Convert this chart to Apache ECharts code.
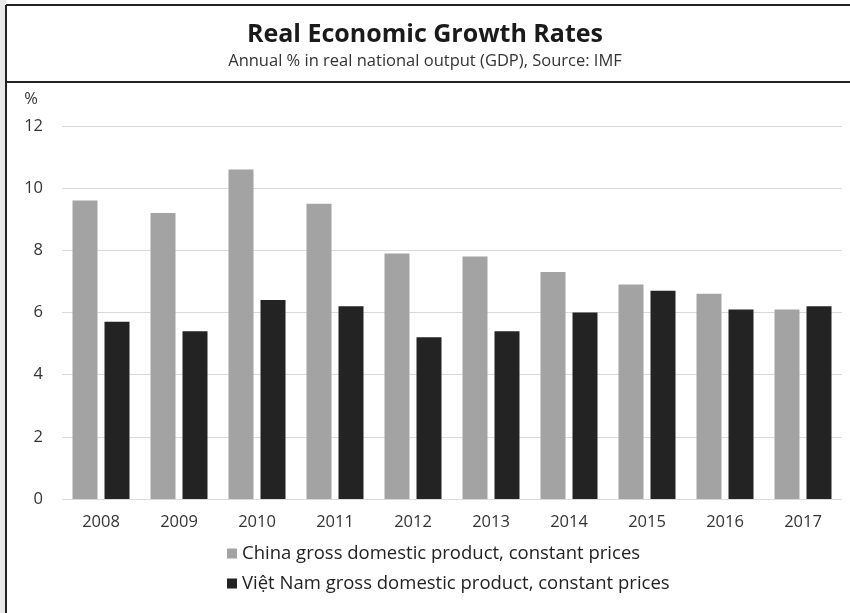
<!DOCTYPE html>
<html>
<head>
<meta charset="utf-8">
<script src="https://cdn.jsdelivr.net/npm/echarts@6/dist/echarts.min.js"></script>
<style>
  html, body { margin: 0; padding: 0; background: #fff; }
</style>
</head>
<body>
<div id="growth_chart" style="width:850px;height:613px;"></div>
<script>
  var years = ['2008', '2009', '2010', '2011', '2012', '2013', '2014', '2015', '2016', '2017'];

  var china = [9.6, 9.2, 10.6, 9.5, 7.9, 7.8, 7.3, 6.9, 6.6, 6.1];

  var vietnam = [5.7, 5.4, 6.4, 6.2, 5.2, 5.4, 6.0, 6.7, 6.1, 6.2];

  var yTicks = { min: 0, max: 12, interval: 2 };

  var chartInstance = echarts.init(document.getElementById('growth_chart'));

  var fontName = "'Open Sans', 'Noto Sans', sans-serif";

  var option = {
    animation: false,
    backgroundColor: '#fff',
    textStyle: { fontFamily: fontName },
    title: {
      text: 'Real Economic Growth Rates',
      subtext: 'Annual % in real national output (GDP), Source: IMF',
      left: 'center',
      top: 17,
      itemGap: 6,
      textStyle: { fontSize: 25, fontWeight: 'bold', color: '#1a1a1a', fontFamily: fontName },
      subtextStyle: { fontSize: 16.5, color: '#333', fontFamily: fontName }
    },
    // frame lines round the title area
    graphic: [
      { type: 'rect', shape: { x: 0, y: 0, width: 6, height: 613 }, style: { fill: '#e8e8e8' }, silent: true },
      { type: 'line', shape: { x1: 6, y1: 5, x2: 850, y2: 5 }, style: { stroke: '#222', lineWidth: 2 }, silent: true },
      { type: 'line', shape: { x1: 6, y1: 82, x2: 850, y2: 82 }, style: { stroke: '#222', lineWidth: 2 }, silent: true },
      { type: 'line', shape: { x1: 6, y1: 5, x2: 6, y2: 613 }, style: { stroke: '#222', lineWidth: 2 }, silent: true }
    ],
    grid: {
      left: 62,
      right: 8,
      top: 126,
      bottom: 114
    },
    legend: {
      orient: 'vertical',
      left: 222,
      top: 539,
      itemWidth: 10,
      itemHeight: 10,
      itemGap: 11,
      icon: 'rect',
      textStyle: { fontSize: 18.5, color: '#222', fontFamily: fontName }
    },
    xAxis: {
      type: 'category',
      data: years,
      axisLine: { show: false },
      axisTick: { show: false },
      axisLabel: { fontSize: 16.5, color: '#333', margin: 15 }
    },
    yAxis: {
      type: 'value',
      min: yTicks.min,
      max: yTicks.max,
      interval: yTicks.interval,
      name: '%',
      nameLocation: 'end',
      nameGap: 18,
      nameTextStyle: { fontSize: 16.5, color: '#333', align: 'right', padding: [0, 24, 0, 0] },
      axisLine: { show: false },
      axisTick: { show: false },
      axisLabel: { fontSize: 16.5, color: '#333', margin: 19 },
      splitLine: { lineStyle: { color: '#dadada', width: 1 } }
    },
    series: [
      {
        name: 'China gross domestic product, constant prices',
        type: 'bar',
        data: china,
        barWidth: 25,
        barGap: '28%',
        itemStyle: { color: '#a3a3a3' }
      },
      {
        name: 'Việt Nam gross domestic product, constant prices',
        type: 'bar',
        data: vietnam,
        barWidth: 25,
        itemStyle: { color: '#232323' }
      }
    ]
  };

  option && chartInstance.setOption(option);
</script>
</body>
</html>
